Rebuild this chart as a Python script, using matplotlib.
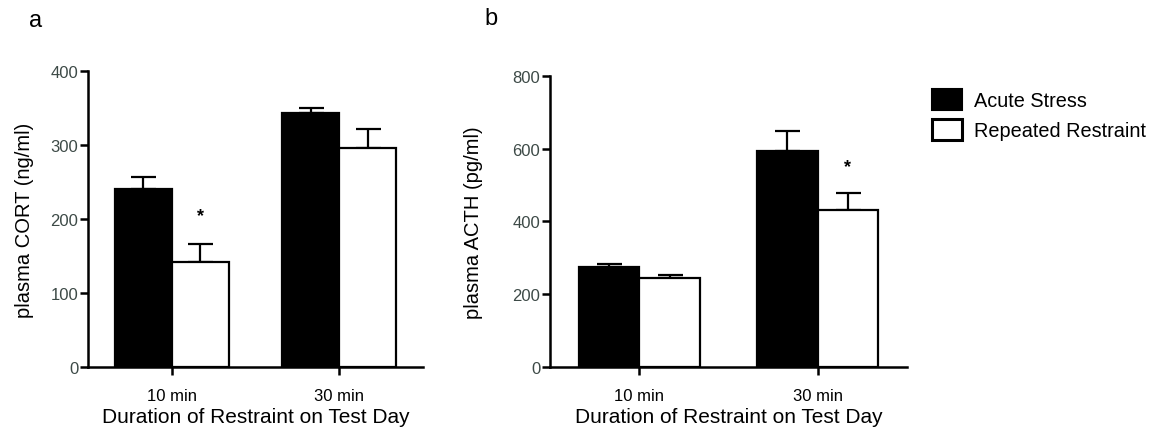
import matplotlib
matplotlib.use("Agg")
import matplotlib.pyplot as plt
import numpy as np
from matplotlib.patches import Patch

plt.rcParams['font.family'] = ['Liberation Sans', 'DejaVu Sans']

categories = ["10 min", "30 min"]
series = ["Acute Stress", "Repeated Restraint"]

cort_acute = [240, 343]
cort_acute_err = [17, 7]
cort_repeat = [142, 296]
cort_repeat_err = [24, 26]

acth_acute = [275, 595]
acth_acute_err = [8, 55]
acth_repeat = [243, 431]
acth_repeat_err = [9, 48]

cort_sig_y = 205
acth_sig_y = 550

fig = plt.figure(figsize=(11.68, 4.39), dpi=100)
axa = fig.add_axes([0.0753, 0.1624, 0.287, 0.673])
axb = fig.add_axes([0.4709, 0.1624, 0.3054, 0.662])

x = np.arange(len(categories))
w = 0.34
tick_color = '#3d4a47'

def draw(ax, a, ae, r, re, ylim, yticks, ylabel, sig_idx, sig_y, ylabelpad):
    ax.bar(x - w/2, a, w, color='black', edgecolor='black', linewidth=1.6, zorder=2)
    ax.bar(x + w/2, r, w, color='white', edgecolor='black', linewidth=1.6, zorder=2)
    ax.errorbar(x - w/2, a, yerr=[np.zeros(len(a)), ae], fmt='none', ecolor='black',
                elinewidth=1.6, capsize=9, capthick=1.6, zorder=1)
    ax.errorbar(x + w/2, r, yerr=[np.zeros(len(r)), re], fmt='none', ecolor='black',
                elinewidth=1.6, capsize=9, capthick=1.6, zorder=1)
    ax.text(x[sig_idx] + w/2, sig_y, '*', ha='center', va='center', fontsize=13, fontweight='bold')
    ax.set_xlim(-0.5, 1.5)
    ax.set_ylim(*ylim)
    ax.set_yticks(yticks)
    ax.set_xticks(x)
    ax.set_xticklabels(categories)
    for s in ['top', 'right']:
        ax.spines[s].set_visible(False)
    for s in ['left', 'bottom']:
        ax.spines[s].set_linewidth(1.8)
    ax.tick_params(axis='both', width=1.8, length=6, labelsize=12)
    ax.tick_params(axis='y', labelcolor=tick_color, pad=1)
    ax.tick_params(axis='x', pad=9)
    ax.set_ylabel(ylabel, fontsize=14.5, labelpad=ylabelpad)
    ax.set_xlabel("Duration of Restraint on Test Day", fontsize=15, labelpad=3)

draw(axa, cort_acute, cort_acute_err, cort_repeat, cort_repeat_err,
     (0, 400), [0, 100, 200, 300, 400], "plasma CORT (ng/ml)", 0, cort_sig_y, 12)
draw(axb, acth_acute, acth_acute_err, acth_repeat, acth_repeat_err,
     (0, 800), [0, 200, 400, 600, 800], "plasma ACTH (pg/ml)", 1, acth_sig_y, 21)

fig.text(0.025, 0.952, "a", fontsize=17, ha='left', va='center')
fig.text(0.415, 0.957, "b", fontsize=17, ha='left', va='center')

handles = [Patch(facecolor='black', edgecolor='black', linewidth=1.5),
           Patch(facecolor='white', edgecolor='black', linewidth=2.2)]
fig.legend(handles, series, loc='upper left', bbox_to_anchor=(0.783, 0.835),
           frameon=False, fontsize=14.3, handlelength=1.48, handleheight=1.24,
           labelspacing=0.45, handletextpad=0.6)

fig.savefig("out.png", dpi=100)
